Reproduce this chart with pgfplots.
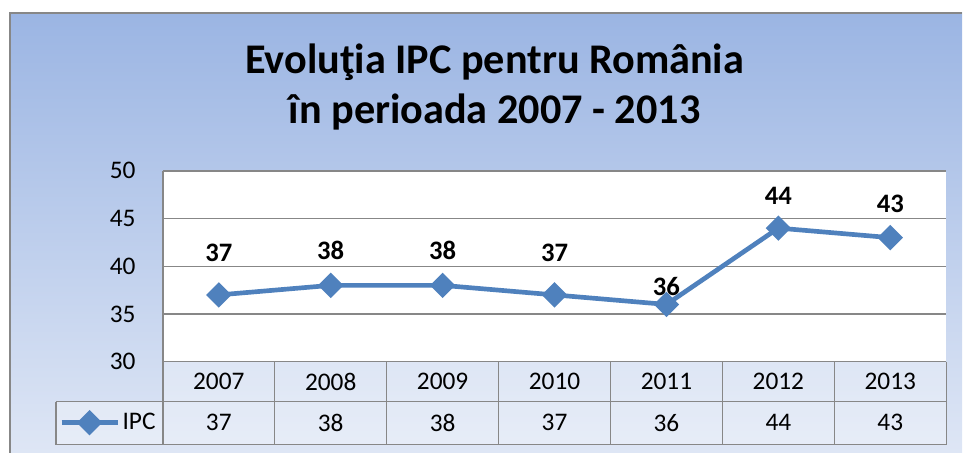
\documentclass[border=0pt]{standalone}
\usepackage{fontspec}
\setmainfont{Carlito}
\usepackage{pgfplots}
\usepackage{pgfplotstable}
\pgfplotsset{compat=1.18}
\definecolor{ipcblue}{HTML}{4F81BD}
\definecolor{bgtop}{HTML}{9BB5E3}
\definecolor{bgbot}{HTML}{DEE6F5}
\definecolor{gridgray}{HTML}{878787}

\pgfplotstableread{
x year v ly
0 2007 37 41.4
1 2008 38 41.7
2 2009 38 41.7
3 2010 37 41.4
4 2011 36 37.9
5 2012 44 47.4
6 2013 43 46.5
}\data

\begin{document}
\begin{tikzpicture}
\begin{scope}[x=0.75pt,y=0.75pt]
\fill[white] (0,0) rectangle (963,453);
\shade[top color=bgtop, bottom color=bgbot] (10,0) rectangle (963,440);
\draw[gridgray, line width=1.2pt] (10,0) -- (10,440) -- (963,440);
\node[font=\bfseries\fontsize{31.7}{37.5}\selectfont, align=center] at (495,366) {Evoluţia IPC pentru România\\în perioada 2007 - 2013};
\fill[white, opacity=0.3] (163,91) rectangle (947,8);
\fill[white, opacity=0.3] (56,51) rectangle (163,8);
\end{scope}
\begin{axis}[
  at={(122.25pt,68.25pt)}, anchor=south west,
  width=588pt, height=143.25pt, scale only axis,
  xmin=-0.5, xmax=6.5, ymin=30, ymax=50,
  ytick={30,35,40,45,50},
  xtick={0,...,6},
  xticklabels from table={\data}{year},
  axis lines*=left,
  axis line style={gridgray, line width=1pt},
  ymajorgrids, grid style={gridgray, line width=1pt},
  major tick length=0pt,
  axis background/.style={fill=white},
  clip=false,
  /pgf/number format/assume math mode=true,
  ticklabel style={font=\fontsize{19}{23}\selectfont},
  yticklabel style={anchor=east, xshift=-17pt},
  xticklabel style={anchor=center, yshift=-15pt},
  legend style={at={(-0.1326,-0.3194)}, anchor=west, draw=none, fill=none,
    inner sep=0pt, font=\fontsize{19}{23}\selectfont},
  legend image code/.code={\draw[mark repeat=2, mark phase=2] plot coordinates {(0pt,0pt) (21pt,0pt) (42pt,0pt)};},
]
\addplot[ipcblue, line width=3.5pt, mark=square*, mark size=5pt, mark options={rotate=45, solid}] table[x=x, y=v]{\data};
\addlegendentry{IPC}
\addplot[draw=none, mark=none, forget plot, nodes near coords, point meta=explicit,
  nodes near coords style={font=\bfseries\fontsize{20}{24}\selectfont, anchor=center, text=black}]
  table[x=x, y=ly, meta=v]{\data};
\addplot[draw=none, mark=none, forget plot, nodes near coords, point meta=explicit,
  nodes near coords style={font=\fontsize{19}{23}\selectfont, anchor=center, text=black}]
  table[x=x, y expr=23.6, meta=v]{\data};
\end{axis}
\begin{scope}[x=0.75pt,y=0.75pt]
\foreach \k in {0,...,7} {\draw[gridgray, line width=1pt] (163+112*\k,91) -- (163+112*\k,8);}
\draw[gridgray, line width=1pt] (56,51) -- (947,51);
\draw[gridgray, line width=1pt] (56,8) -- (947,8);
\draw[gridgray, line width=1pt] (56,51) -- (56,8);
\end{scope}
\end{tikzpicture}
\end{document}
